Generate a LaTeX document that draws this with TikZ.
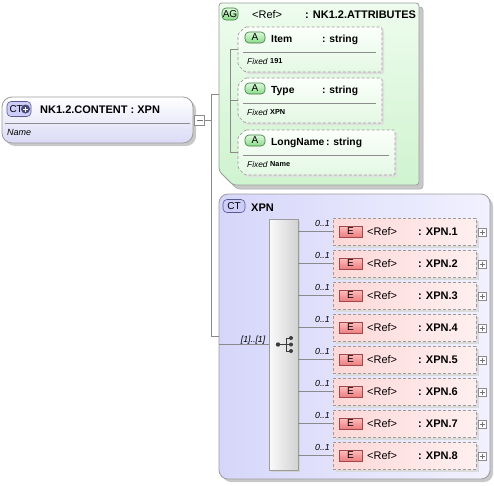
\documentclass[tikz,border=0pt]{standalone}
\usepackage{fontspec}
\setmainfont{Liberation Sans}
\definecolor{bordergray}{HTML}{9C9C9C}
\definecolor{conngray}{HTML}{8A8A8A}
\definecolor{shadowgray}{HTML}{C8C8C8}
\definecolor{lavbot}{HTML}{DADAF6}
\definecolor{agtop}{HTML}{EEFCEE}
\definecolor{agbot}{HTML}{CFF3CF}
\definecolor{attop}{HTML}{FBFFFB}
\definecolor{atbot}{HTML}{E4F8E4}
\definecolor{ctleft}{HTML}{D6D6FA}
\definecolor{ctright}{HTML}{F1F1FF}
\definecolor{elleft}{HTML}{FFD8D8}
\definecolor{elright}{HTML}{FFEFEF}
\definecolor{ebadgetop}{HTML}{FFBEBE}
\definecolor{ebadgebot}{HTML}{EE7E7E}
\definecolor{ebadgeborder}{HTML}{A04848}
\definecolor{abadgetop}{HTML}{DDF9DD}
\definecolor{abadgebot}{HTML}{8ADA8A}
\definecolor{abadgeborder}{HTML}{3C7A3C}
\definecolor{ctbadgefill}{HTML}{CDCDF8}
\definecolor{ctbadgeborder}{HTML}{5A5A96}
\definecolor{seqleft}{HTML}{FAFAFA}
\definecolor{seqright}{HTML}{D2D2D2}
\definecolor{icongray}{HTML}{3C3C3C}
\tikzset{
  conn/.style={draw=conngray, line width=0.7pt},
  nw/.style={inner sep=0pt, outer sep=0pt, anchor=north west},
  boldtxt/.style={font=\fontsize{11}{13}\selectfont\bfseries, inner sep=0pt, anchor=base west},
  plaintxt/.style={font=\fontsize{11}{13}\selectfont, inner sep=0pt, anchor=base west},
  attrtxt/.style={font=\fontsize{10.3}{12}\selectfont\bfseries, inner sep=0pt, anchor=base west},
  ittxt/.style={font=\fontsize{9}{11}\selectfont\itshape, inner sep=0pt, anchor=base west},
  fixtxt/.style={font=\fontsize{8.3}{10}\selectfont\itshape, inner sep=0pt, anchor=base west},
  fixval/.style={font=\fontsize{7.3}{9}\selectfont\bfseries, inner sep=0pt, anchor=base west},
  cardtxt/.style={font=\fontsize{8.8}{10}\selectfont\itshape, inner sep=0pt, anchor=base east},
  badgetxt/.style={font=\fontsize{10}{12}\selectfont, inner sep=0pt, outer sep=0pt},
  ebadge/.style={badgetxt, anchor=north west, draw=ebadgeborder, top color=ebadgetop, bottom color=ebadgebot, minimum width=23pt, minimum height=11pt, line width=0.6pt},
  abadge/.style={badgetxt, anchor=north west, draw=abadgeborder, top color=abadgetop, bottom color=abadgebot, minimum width=20pt, minimum height=11pt, rounded corners=4pt, line width=0.6pt},
  ctbadge/.style={badgetxt, anchor=north west, draw=ctbadgeborder, fill=ctbadgefill, rounded corners=4pt, line width=0.6pt},
  elbox/.style={nw, draw=bordergray, dash pattern=on 3pt off 2pt, line width=0.7pt, left color=elleft, right color=elright, minimum width=143pt, minimum height=27pt},
  elshadow/.style={nw, fill=black!14, minimum width=143pt, minimum height=27pt},
  atframe/.style={draw=bordergray, dash pattern=on 3pt off 2pt, line width=0.7pt, top color=attop, bottom color=atbot, rounded corners=1.5pt},
  atshade/.style={fill=black!12, rounded corners=1.5pt},
  frame/.style={nw, minimum height=45pt},
  plusbox/.style={draw=black!45, fill=white, minimum size=8pt, inner sep=0pt, line width=0.5pt,
    path picture={\draw[black!55, line width=0.5pt] ([xshift=-2.5pt]path picture bounding box.center) -- ([xshift=2.5pt]path picture bounding box.center) ([yshift=-2.5pt]path picture bounding box.center) -- ([yshift=2.5pt]path picture bounding box.center);}},
  minusbox/.style={draw=black!45, fill=white, minimum size=10pt, inner sep=0pt, line width=0.5pt,
    path picture={\draw[black!55, line width=0.5pt] ([xshift=-3pt]path picture bounding box.center) -- ([xshift=3pt]path picture bounding box.center);}},
}
\begin{document}
\begin{tikzpicture}[x=1pt,y=-1pt]
\useasboundingbox (0,0) rectangle (494,485);
\fill[white] (0,0) rectangle (494,485);

% ---------- left complex type node ----------
\fill[shadowgray, rounded corners=10pt] (5,100) rectangle (196,146);
\node[nw, draw=bordergray, line width=0.8pt, rounded corners=10pt, top color=white, bottom color=lavbot, minimum width=191pt, minimum height=46pt] (ct) at (2,97) {};
\draw[black!45, line width=0.6pt] (5,123) -- (190,123);
\node[ctbadge, minimum width=24pt, minimum height=15pt] (ctb) at (7,101.5) {};
\node[badgetxt, anchor=west] (ctbt) at (9.5,109) {CT};
\node[circle, fill=ctbadgeborder!80!black, minimum size=9pt, inner sep=0pt,
  path picture={\draw[white, line width=0.9pt] ([xshift=-2.5pt]path picture bounding box.center) -- ([xshift=2.5pt]path picture bounding box.center) ([yshift=-2.5pt]path picture bounding box.center) -- ([yshift=2.5pt]path picture bounding box.center);}] (ctplus) at (25.5,109) {};
\node[boldtxt] (ctname) at (40,113) {NK1.2.CONTENT : XPN};
\node[ittxt] (ctsub) at (7,135) {Name};
\node[minusbox] (minus) at (199.5,120.5) {};

% ---------- attribute group ----------
\fill[shadowgray, draw=black!35, line width=0.5pt, rounded corners=3pt] (223,7) -- (423,7) -- (423,189) -- (237,189) -- (223,175) -- cycle;
\path[draw=bordergray, line width=0.8pt, top color=agtop, bottom color=agbot, rounded corners=3pt] (219,3) -- (419,3) -- (419,185) -- (233,185) -- (219,171) -- cycle;
\node[nw, minimum width=200pt, minimum height=182pt] (ag) at (219,3) {};
\node[abadge, minimum width=16pt, minimum height=12pt] (agb) at (222,8) {AG};
\node[plaintxt] (agref) at (252,18) {<Ref>};
\node[boldtxt] (agname) at (305,18) {: NK1.2.ATTRIBUTES};

% attributes
\fill[atshade] (247,29) -- (384,29) -- (384,74) -- (247,74) -- (240,67) -- (240,36) -- cycle;
\path[atframe] (245,27) -- (382,27) -- (382,72) -- (245,72) -- (238,65) -- (238,34) -- cycle;
\node[frame, minimum width=144pt] (at1) at (238,27) {};
\node[abadge] (ab1) at (245,32) {A};
\node[attrtxt] (an1) at (271,42) {Item};
\node[attrtxt] (ay1) at (322,42) {: string};
\draw[black!45, line width=0.6pt] (243,52) -- (376,52);
\node[fixtxt] (af1) at (247,64) {Fixed};
\node[fixval] (av1) at (270,63.5) {191};

\fill[atshade] (247,80) -- (384,80) -- (384,125) -- (247,125) -- (240,118) -- (240,87) -- cycle;
\path[atframe] (245,78) -- (382,78) -- (382,123) -- (245,123) -- (238,116) -- (238,85) -- cycle;
\node[frame, minimum width=144pt] (at2) at (238,78) {};
\node[abadge] (ab2) at (245,83) {A};
\node[attrtxt] (an2) at (271,93) {Type};
\node[attrtxt] (ay2) at (322,93) {: string};
\draw[black!45, line width=0.6pt] (243,103) -- (376,103);
\node[fixtxt] (af2) at (247,115) {Fixed};
\node[fixval] (av2) at (270,114.5) {XPN};

\fill[atshade] (247,132) -- (397,132) -- (397,177) -- (247,177) -- (240,170) -- (240,139) -- cycle;
\path[atframe] (245,130) -- (395,130) -- (395,175) -- (245,175) -- (238,168) -- (238,137) -- cycle;
\node[frame, minimum width=157pt] (at3) at (238,130) {};
\node[abadge] (ab3) at (245,135) {A};
\node[attrtxt] (an3) at (271,145) {LongName};
\node[attrtxt] (ay3) at (326,145) {: string};
\draw[black!45, line width=0.6pt] (243,155) -- (389,155);
\node[fixtxt] (af3) at (247,167) {Fixed};
\node[fixval] (av3) at (270,166.5) {Name};

\coordinate (ai) at (230,0);
\draw[conn] (at1.west -| ai) -- (at3.west -| ai);
\draw[conn] (at1.west -| ai) -- (at1.west);
\draw[conn] (at2.west -| ai) -- (at2.west);
\draw[conn] (at3.west -| ai) -- (at3.west);

% ---------- complex type XPN ----------
\fill[shadowgray, rounded corners=9pt] (222,197) rectangle (493,482);
\node[nw, draw=bordergray, line width=0.8pt, rounded corners=9pt, left color=ctleft, right color=ctright, minimum width=271pt, minimum height=285pt] (ctx) at (219,194) {};
\node[ctbadge, minimum width=22pt, minimum height=13pt] (ctxb) at (223,199.5) {CT};
\node[boldtxt] (ctxname) at (251,211) {XPN};

% sequence
\fill[black!18] (271,221) rectangle (300,472);
\node[nw, draw=bordergray, line width=0.7pt, left color=seqleft, right color=seqright, minimum width=29pt, minimum height=251pt] (seq) at (269,219) {};
\draw[icongray, line width=0.9pt] (278,344.5) -- (286,344.5) (286,338) -- (286,351)
  (286,338) -- (291,338) (286,344.5) -- (291,344.5) (286,351) -- (291,351);
\fill[icongray] (278,344.5) circle (2.2pt) (291,338) circle (2pt) (291,344.5) circle (2pt) (291,351) circle (2pt);

% elements
\foreach \k in {1,...,8}{
  \pgfmathsetmacro{\ty}{218+32*(\k-1)}
  \node[elshadow] (es\k) at (335.5,\ty+2.5) {};
  \node[elbox] (el\k) at (333,\ty) {};
  \node[ebadge] (eb\k) at (339,\ty+8) {E};
  \node[plaintxt] (er\k) at (367,\ty+17) {<Ref>};
  \node[boldtxt] (en\k) at (418,\ty+17) {: XPN.\k};
  \node[plusbox] (pl\k) at (482,\ty+14.5) {};
  \node[cardtxt] (cd\k) at (330,\ty+8.5) {0..1};
  \draw[conn] (seq.east |- el\k.west) -- (el\k.west);
}

% ---------- connectors ----------
\coordinate (jt) at (211,94);
\coordinate (jb) at (211,336.5);
\draw[conn] (minus.east) -- (minus.east -| jt);
\draw[conn] (jt) -- (jb);
\draw[conn] (jt) -- (jt -| ag.west);
\draw[conn] (jb) -- (jb -| ctx.west);
\draw[conn] (ctx.west |- seq.west) -- (seq.west);
\node[cardtxt] (seqcard) at (265.5,342) {[1]..[1]};
\end{tikzpicture}
\end{document}
